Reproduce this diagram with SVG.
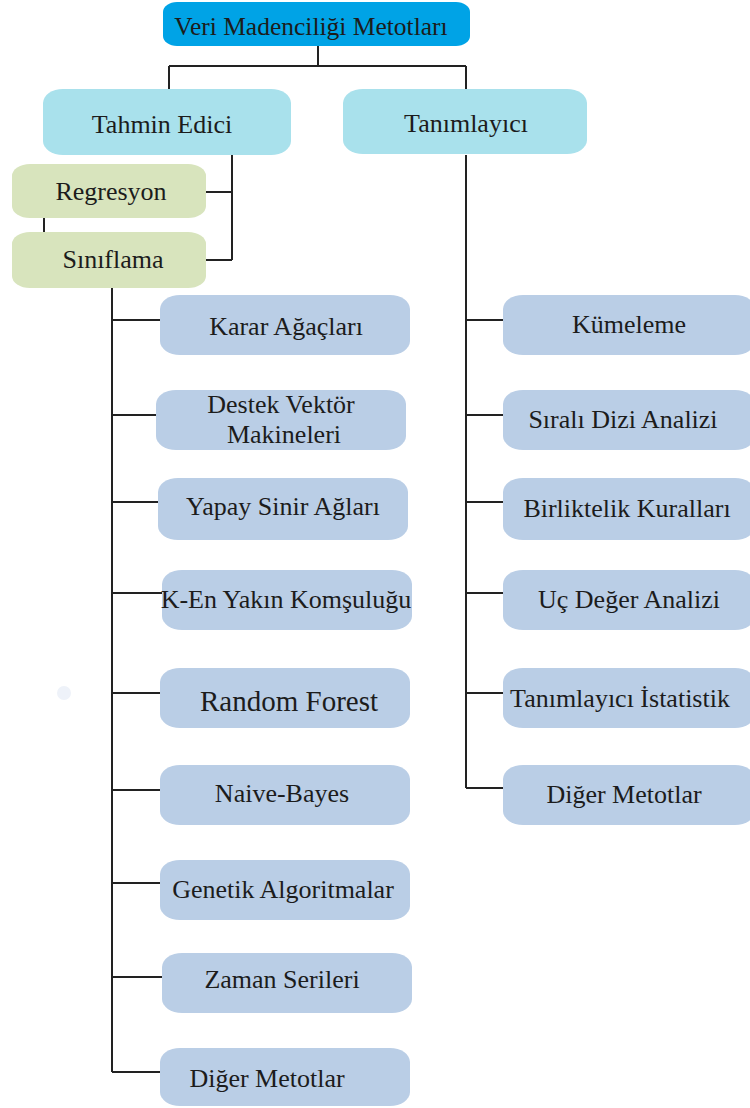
<svg xmlns="http://www.w3.org/2000/svg" width="750" height="1108" viewBox="0 0 750 1108">
  <style>
    .lbl { font-family: "Liberation Serif", "Times New Roman", serif; font-size: 26px; fill: #1c1c1c; text-anchor: middle; }
    .big { font-size: 29px; }
    .title { font-size: 25.5px; }
    .root { fill: #00a3e6; }
    .cat { fill: #a9e1ec; }
    .grn { fill: #d8e4bd; }
    .leaf { fill: #bacee6; }
    .wire { stroke: #222; stroke-width: 2; fill: none; }
  </style>
  <rect width="750" height="1108" fill="#ffffff"/>

  <!-- connectors -->
  <g id="connectors" class="wire">
    <path d="M318 46 V66 M169 66 H466 M169 66 V89 M466 66 V89"/>
    <path d="M232 155 V260 M206 192 H232 M206 260 H232"/>
    <path d="M44 218 V232"/>
    <path d="M112 288 V1072"/>
    <path d="M112 320 H160 M112 415 H156 M112 502 H158 M112 593 H162 M112 693 H160 M112 790 H160 M112 883 H160 M112 977 H162 M112 1072 H160"/>
    <path d="M466 155 V788"/>
    <path d="M466 320 H503 M466 415 H503 M466 502 H503 M466 593 H503 M466 693 H503 M466 788 H503"/>
  </g>

  <!-- root -->
  <g id="n-root">
    <rect class="root" x="163" y="2" width="307" height="44" rx="14" ry="10"/>
    <text class="lbl title" x="311" y="35">Veri Madenciliği Metotları</text>
  </g>

  <!-- first level -->
  <g id="n-tahmin">
    <rect class="cat" x="43" y="89" width="248" height="66" rx="20" ry="14"/>
    <text class="lbl" x="162" y="133">Tahmin Edici</text>
  </g>
  <g id="n-tanimlayici">
    <rect class="cat" x="343" y="89" width="244" height="65" rx="20" ry="14"/>
    <text class="lbl" x="466" y="132">Tanımlayıcı</text>
  </g>

  <!-- predictive branch -->
  <g id="n-regresyon">
    <rect class="grn" x="12" y="164" width="194" height="54" rx="18" ry="12"/>
    <text class="lbl" x="111" y="200">Regresyon</text>
  </g>
  <g id="n-siniflama">
    <rect class="grn" x="12" y="232" width="194" height="56" rx="18" ry="12"/>
    <text class="lbl" x="113" y="268">Sınıflama</text>
  </g>

  <!-- classification methods -->
  <g id="n-karar">
    <rect class="leaf" x="160" y="295" width="250" height="60" rx="20" ry="14"/>
    <text class="lbl" x="286" y="335">Karar Ağaçları</text>
  </g>
  <g id="n-destek">
    <rect class="leaf" x="156" y="390" width="250" height="60" rx="20" ry="14"/>
    <text class="lbl" x="281" y="413">Destek Vektör</text>
    <text class="lbl" x="284" y="443">Makineleri</text>
  </g>
  <g id="n-yapay">
    <rect class="leaf" x="158" y="478" width="250" height="62" rx="20" ry="14"/>
    <text class="lbl" x="283" y="515">Yapay Sinir Ağları</text>
  </g>
  <g id="n-knn">
    <rect class="leaf" x="162" y="570" width="250" height="60" rx="20" ry="14"/>
    <text class="lbl" x="286" y="608">K-En Yakın Komşuluğu</text>
  </g>
  <g id="n-rf">
    <rect class="leaf" x="160" y="668" width="250" height="60" rx="20" ry="14"/>
    <text class="lbl big" x="289" y="711">Random Forest</text>
  </g>
  <g id="n-nb">
    <rect class="leaf" x="160" y="765" width="250" height="60" rx="20" ry="14"/>
    <text class="lbl" x="282" y="802">Naive-Bayes</text>
  </g>
  <g id="n-genetik">
    <rect class="leaf" x="160" y="860" width="250" height="60" rx="20" ry="14"/>
    <text class="lbl" x="283" y="898">Genetik Algoritmalar</text>
  </g>
  <g id="n-zaman">
    <rect class="leaf" x="162" y="953" width="250" height="60" rx="20" ry="14"/>
    <text class="lbl" x="282" y="988">Zaman Serileri</text>
  </g>
  <g id="n-diger-l">
    <rect class="leaf" x="160" y="1048" width="250" height="58" rx="20" ry="14"/>
    <text class="lbl" x="267" y="1087">Diğer Metotlar</text>
  </g>

  <!-- descriptive methods -->
  <g id="n-kumeleme">
    <rect class="leaf" x="503" y="295" width="252" height="60" rx="20" ry="14"/>
    <text class="lbl" x="629" y="333">Kümeleme</text>
  </g>
  <g id="n-sirali">
    <rect class="leaf" x="503" y="390" width="252" height="60" rx="20" ry="14"/>
    <text class="lbl" x="623" y="428">Sıralı Dizi Analizi</text>
  </g>
  <g id="n-birliktelik">
    <rect class="leaf" x="503" y="478" width="252" height="62" rx="20" ry="14"/>
    <text class="lbl" x="627" y="517">Birliktelik Kuralları</text>
  </g>
  <g id="n-uc">
    <rect class="leaf" x="503" y="570" width="252" height="60" rx="20" ry="14"/>
    <text class="lbl" x="629" y="608">Uç Değer Analizi</text>
  </g>
  <g id="n-istatistik">
    <rect class="leaf" x="503" y="668" width="252" height="60" rx="20" ry="14"/>
    <text class="lbl" x="620" y="707">Tanımlayıcı İstatistik</text>
  </g>
  <g id="n-diger-r">
    <rect class="leaf" x="503" y="765" width="252" height="60" rx="20" ry="14"/>
    <text class="lbl" x="624" y="803">Diğer Metotlar</text>
  </g>

  <!-- faint speck -->
  <circle cx="64" cy="693" r="7" fill="#eef2f9"/>
</svg>
